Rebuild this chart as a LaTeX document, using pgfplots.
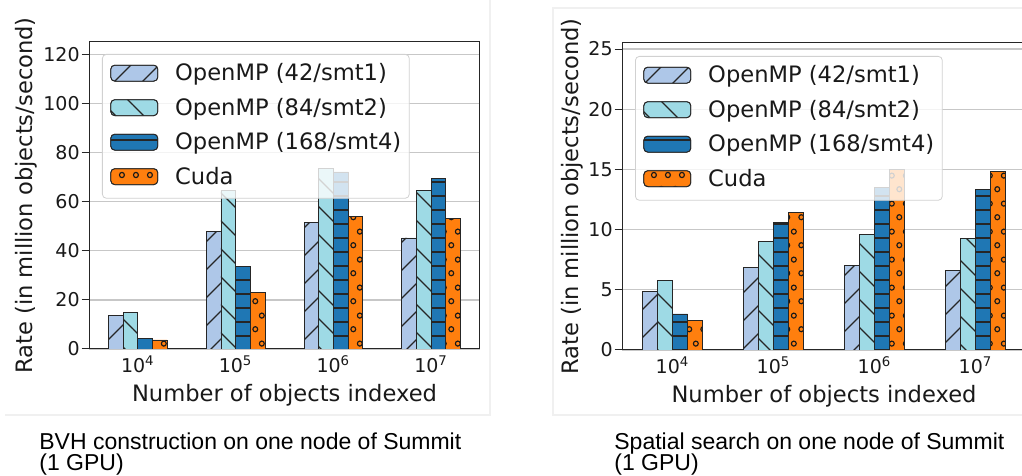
\documentclass[border=0pt]{standalone}
\usepackage{pgfplots}
\pgfplotsset{compat=1.18}
\usepackage{pgfplotstable}
\usetikzlibrary{patterns,patterns.meta}
\usepackage{fontspec}
\setmainfont{DejaVu Sans}
\newfontfamily\capfont{Liberation Sans}

\definecolor{cA}{HTML}{AEC7E8}
\definecolor{cB}{HTML}{9EDAE5}
\definecolor{cC}{HTML}{1F77B4}
\definecolor{cD}{HTML}{FF7F0E}

\tikzdeclarepattern{
  name=mycircles,
  type=uncolored,
  bounding box={(0pt,0pt) and (7pt,14pt)},
  tile size={(7pt,14pt)},
  code={
    \pgfsetlinewidth{0.6pt}
    \pgfpathcircle{\pgfpoint{1.75pt}{3.5pt}}{1.3pt}
    \pgfpathcircle{\pgfpoint{5.25pt}{10.5pt}}{1.3pt}
    \pgfusepath{stroke}
  }
}

\pgfplotstableread{
x s1 s2 s3 s4
0 13.8 14.9 4.3 3.7
1 48.0 64.4 33.5 23.0
2 51.7 73.5 72.1 54.1
3 45.2 64.7 69.4 53.2
}\bvh

\pgfplotstableread{
x s1 s2 s3 s4
0 4.90 5.76 2.99 2.49
1 6.87 9.03 10.57 11.46
2 7.00 9.63 13.48 15.00
3 6.64 9.25 13.35 14.85
}\search

\pgfplotsset{
  mylegend/.style={legend image code/.code={\draw[fill opacity=1,draw opacity=1,##1] (0pt,-0.3pt) rectangle (23.5pt,7.7pt);}},
  barA/.style={ybar, bar shift=0pt, bar width=0.15, draw=black!85, line width=0.4pt, fill=cA,
     postaction={pattern={Lines[angle=45,distance=9.9pt,line width=0.6pt]}, pattern color=black!85}, mylegend},
  barB/.style={ybar, bar shift=0pt, bar width=0.15, draw=black!85, line width=0.4pt, fill=cB,
     postaction={pattern={Lines[angle=-45,distance=9.9pt,line width=0.6pt]}, pattern color=black!85}, mylegend},
  barC/.style={ybar, bar shift=0pt, bar width=0.15, draw=black!85, line width=0.4pt, fill=cC,
     postaction={pattern={Lines[angle=0,distance=7pt,line width=0.6pt]}, pattern color=black!85}, mylegend},
  barD/.style={ybar, bar shift=0pt, bar width=0.15, draw=black!85, line width=0.4pt, fill=cD,
     postaction={pattern=mycircles, pattern color=black!90}, mylegend},
  mybase/.style={
    scale only axis, height=153.5pt,
    anchor=south west,
    xmin=-0.5, xmax=3.5, ymin=0,
    xtick={0,1,2,3},
    xticklabels={10\textsuperscript{4},10\textsuperscript{5},10\textsuperscript{6},10\textsuperscript{7}},
    ymajorgrids, grid style={color=black!22, line width=0.7pt},
    axis line style={black!85, line width=0.5pt},
    tick align=outside, 
    xtick style={draw=none},
    ytick style={black!85, line width=0.5pt},
    major tick length=3.75pt,
    ytick pos=left,
    /pgf/number format/assume math mode=true,
    tick label style={font=\fontsize{9.5pt}{11pt}\selectfont, text=black!90},
    yticklabel style={inner xsep=0.75pt},
    xticklabel style={anchor=base, yshift=-8.25pt},
    label style={font=\fontsize{11.3pt}{13pt}\selectfont, text=black!90},
    xlabel={Number of objects indexed},
    ylabel={Rate (in million objects/second)},
    xlabel style={at={(axis description cs:0.5,-0.1726)}, anchor=base},
    legend cell align=left,
    legend style={anchor=north west, draw=black!18, fill=white, fill opacity=0.8, text opacity=1, draw opacity=1,
      rounded corners=2pt, inner xsep=4pt, inner ysep=4.6pt, row sep=6.25pt, column sep=8.5pt,
      font=\fontsize{11.3pt}{13pt}\selectfont, text=black!90,
      nodes={inner sep=0pt, text height=8.5pt, text depth=2.5pt, anchor=base west}},
  }
}

\begin{document}
\begin{tikzpicture}
% faint subfigure borders
\draw[black!6, line width=0.8pt] (2.5pt,30.5pt) -- (245pt,30.5pt) -- (245pt,238pt);
\draw[black!6, line width=0.8pt] (511pt,234pt) -- (276.5pt,234pt) -- (276.5pt,30.5pt) -- (511pt,30.5pt);

\begin{axis}[mybase, at={(44.5pt,63.5pt)}, width=195.5pt, ymax=125,
  ytick={0,20,40,60,80,100,120},
  ylabel style={at={(axis description cs:-0.145,0.5)}, anchor=base},
  legend style={at={(0.0332,0.961)}}]
\addplot[barA] table[x expr=\thisrow{x}-0.225, y=s1] {\bvh};
\addplot[barB] table[x expr=\thisrow{x}-0.075, y=s2] {\bvh};
\addplot[barC] table[x expr=\thisrow{x}+0.075, y=s3] {\bvh};
\addplot[barD] table[x expr=\thisrow{x}+0.225, y=s4] {\bvh};
\legend{OpenMP (42/smt1),OpenMP (84/smt2),OpenMP (168/smt4),Cuda}
\end{axis}

\begin{axis}[mybase, at={(311pt,63pt)}, width=202pt, ymax=25.5,
  ytick={0,5,10,15,20,25},
  ylabel style={at={(axis description cs:-0.108,0.5)}, anchor=base},
  legend style={at={(0.0322,0.9577)}}]
\addplot[barA] table[x expr=\thisrow{x}-0.225, y=s1] {\search};
\addplot[barB] table[x expr=\thisrow{x}-0.075, y=s2] {\search};
\addplot[barC] table[x expr=\thisrow{x}+0.075, y=s3] {\search};
\addplot[barD] table[x expr=\thisrow{x}+0.225, y=s4] {\search};
\legend{OpenMP (42/smt1),OpenMP (84/smt2),OpenMP (168/smt4),Cuda}
\end{axis}

\node[anchor=base west, inner sep=0pt, font=\capfont\fontsize{11.5pt}{13pt}\selectfont] at (19.5pt,13.3pt) {BVH construction on one node of Summit};
\node[anchor=base west, inner sep=0pt, font=\capfont\fontsize{11.5pt}{13pt}\selectfont] at (19.5pt,2.7pt) {(1 GPU)};
\node[anchor=base west, inner sep=0pt, font=\capfont\fontsize{11.5pt}{13pt}\selectfont] at (307pt,13.3pt) {Spatial search on one node of Summit};
\node[anchor=base west, inner sep=0pt, font=\capfont\fontsize{11.5pt}{13pt}\selectfont] at (307pt,2.7pt) {(1 GPU)};

\pgfresetboundingbox
\useasboundingbox (0pt,0pt) rectangle (511pt,238pt);
\end{tikzpicture}
\end{document}
